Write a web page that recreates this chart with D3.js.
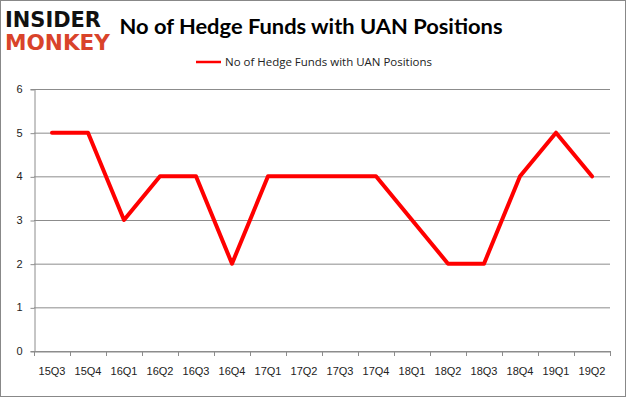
<!DOCTYPE html>
<html lang="en">
<head>
<meta charset="UTF-8">
<title>No of Hedge Funds with UAN Positions</title>
<script src="https://d3js.org/d3.v7.min.js"></script>
<style>
    body { margin: 0; background: #fff; }
    svg { display: block; font-family: 'Open Sans', 'DejaVu Sans', sans-serif; }
</style>
</head>
<body>
<svg id="chart" width="626" height="397"></svg>
<script>
    // quarters and fund counts
    const quarters = ["15Q3", "15Q4", "16Q1", "16Q2", "16Q3", "16Q4", "17Q1", "17Q2",
                      "17Q3", "17Q4", "18Q1", "18Q2", "18Q3", "18Q4", "19Q1", "19Q2"];
    const funds = [5, 5, 3, 4, 4, 2, 4, 4, 4, 4, 3, 2, 2, 4, 5, 4];
    const yTicks = [0, 1, 2, 3, 4, 5, 6];
    const seriesName = "No of Hedge Funds with UAN Positions";

    const svg = d3.select("#chart");
    const W = 626, H = 397;
    const plotLeft = 34, plotRight = 610, plotTop = 89, plotBottom = 351;

    // outer frame
    svg.append("rect")
        .attr("x", 0.5).attr("y", 0.5)
        .attr("width", W - 1).attr("height", H - 1)
        .attr("fill", "#fff").attr("stroke", "#888");

    // logo
    svg.append("text")
        .attr("x", 5).attr("y", 27)
        .attr("font-family", "'DejaVu Sans', sans-serif")
        .attr("font-weight", "bold").attr("font-size", 22)
        .attr("textLength", 96).attr("lengthAdjust", "spacingAndGlyphs")
        .attr("fill", "#111").text("INSIDER");
    svg.append("text")
        .attr("x", 5).attr("y", 50)
        .attr("font-family", "'DejaVu Sans', sans-serif")
        .attr("font-weight", "bold").attr("font-size", 22)
        .attr("textLength", 105).attr("lengthAdjust", "spacingAndGlyphs")
        .attr("fill", "#d9432a").text("MONKEY");

    // title
    svg.append("text")
        .attr("x", 311).attr("y", 34)
        .attr("text-anchor", "middle")
        .attr("font-family", "Lato, 'Open Sans', sans-serif")
        .attr("font-weight", "bold").attr("font-size", 21)
        .attr("textLength", 383).attr("lengthAdjust", "spacingAndGlyphs")
        .attr("fill", "#000").text(seriesName);

    // legend
    svg.append("line")
        .attr("x1", 196).attr("x2", 221).attr("y1", 62).attr("y2", 62)
        .attr("stroke", "#ff0000").attr("stroke-width", 2.5);
    svg.append("text")
        .attr("x", 225).attr("y", 66)
        .attr("font-size", 11).attr("fill", "#222")
        .attr("textLength", 207).attr("lengthAdjust", "spacingAndGlyphs")
        .text(seriesName);

    const x = d3.scaleBand().domain(quarters).range([plotLeft, plotRight]);
    const y = d3.scaleLinear().domain([0, 6]).range([plotBottom, plotTop]);

    // gridlines
    svg.append("g")
        .selectAll("line")
        .data(yTicks)
        .join("line")
        .attr("x1", plotLeft).attr("x2", plotRight)
        .attr("y1", d => y(d) + 0.5).attr("y2", d => y(d) + 0.5)
        .attr("stroke", "#8c8c8c").attr("stroke-width", 1);

    // y axis
    const yAxis = svg.append("g")
        .attr("transform", `translate(${plotLeft + 0.5},0)`)
        .call(d3.axisLeft(y).tickValues(yTicks).tickFormat(d3.format("d")).tickSize(4).tickPadding(8));
    yAxis.select(".domain").attr("stroke", "#8c8c8c");
    yAxis.selectAll(".tick line").attr("stroke", "#8c8c8c").attr("transform", "translate(0,0.5)");
    yAxis.selectAll("text").attr("font-size", 11).attr("fill", "#222");

    // x axis
    const xAxis = svg.append("g")
        .attr("transform", `translate(0,${plotBottom + 0.5})`)
        .call(d3.axisBottom(x).tickSize(0).tickPadding(16));
    xAxis.select(".domain").attr("stroke", "#8c8c8c");
    xAxis.selectAll("text").attr("font-size", 11).attr("fill", "#222");
    svg.append("g")
        .selectAll("line")
        .data(quarters.concat([null]))
        .join("line")
        .attr("x1", (d, i) => plotLeft + i * x.step() + 0.5)
        .attr("x2", (d, i) => plotLeft + i * x.step() + 0.5)
        .attr("y1", plotBottom).attr("y2", plotBottom + 5)
        .attr("stroke", "#8c8c8c");

    // series line
    const line = d3.line()
        .x((d, i) => x(quarters[i]) + x.bandwidth() / 2)
        .y(d => y(d));
    svg.append("path")
        .datum(funds)
        .attr("d", line)
        .attr("fill", "none")
        .attr("stroke", "#ff0000")
        .attr("stroke-width", 4)
        .attr("stroke-linejoin", "round")
        .attr("stroke-linecap", "round");
</script>
</body>
</html>
